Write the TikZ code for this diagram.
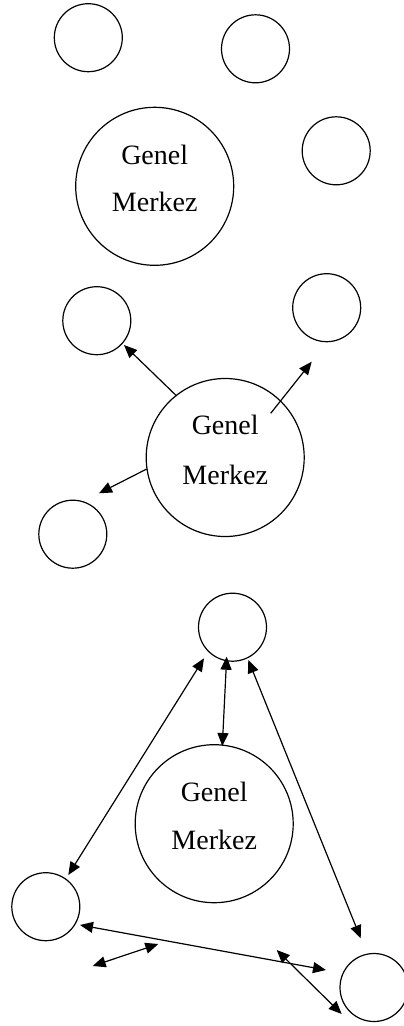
\documentclass[tikz,border=0pt]{standalone}
\usepackage{fontspec}
\setmainfont{Liberation Serif}
\usetikzlibrary{arrows.meta}
\tikzset{
  small/.style={circle,draw,line width=1.2pt,minimum size=68pt,inner sep=0pt},
  hub/.style={circle,draw,line width=1.2pt,minimum size=158pt,inner sep=0pt},
  label/.style={font=\fontsize{28}{28}\selectfont,inner sep=0pt},
  link/.style={line width=1.2pt,-{Triangle[length=13pt,width=11pt]}},
  twoway/.style={line width=1.2pt,{Triangle[length=13pt,width=11pt]}-{Triangle[length=13pt,width=11pt]}}
}
\begin{document}
\begin{tikzpicture}[x=1pt,y=-1pt]
\useasboundingbox (0,0) rectangle (404,1026);
\clip (0,0) rectangle (404,1026);

% --- first panel: scattered units around the centre ---
\node[small] (a1) at (88.3,37.7) {};
\node[small] (a2) at (255.5,48.8) {};
\node[hub]   (a0) at (154.7,186.3) {};
\node[label] at (154.7,155) {Genel};
\node[label] at (154.7,202) {Merkez};
\node[small] (a3) at (336.2,150.8) {};

% --- second panel: the centre sending outwards ---
\node[small] (b1) at (96.8,320.7) {};
\node[small] (b2) at (326.7,307.7) {};
\node[hub]   (b0) at (225.2,457.5) {};
\node[label] at (225.2,425) {Genel};
\node[label] at (225.2,475) {Merkez};
\node[small] (b3) at (72.8,534.2) {};

\coordinate (b1s) at (176.7,396);   \coordinate (b1e) at (124,345);
\coordinate (b2s) at (270.7,413.3); \coordinate (b2e) at (311.7,361.7);
\coordinate (b3s) at (146.7,469);   \coordinate (b3e) at (99,493.3);
\draw[link] (b1s) -- (b1e);
\draw[link] (b2s) -- (b2e);
\draw[link] (b3s) -- (b3e);

% --- third panel: mutual exchange between units ---
\node[small] (c1) at (232.5,627.2) {};
\node[hub]   (c0) at (214.2,823.7) {};
\node[label] at (214.2,791.7) {Genel};
\node[label] at (214.2,840) {Merkez};
\node[small] (c2) at (45.8,906.7) {};
\node[small] (c3) at (374,987.5) {};

\coordinate (c12a) at (204,658.3);   \coordinate (c12b) at (68.3,875);
\coordinate (c10a) at (226.7,656.7); \coordinate (c10b) at (222.3,746);
\coordinate (c13a) at (248.3,660);   \coordinate (c13b) at (360.7,938.3);
\coordinate (c23a) at (80,925);      \coordinate (c23b) at (326,970);
\coordinate (x1a)  at (92.7,966);    \coordinate (x1b)  at (158.3,944);
\coordinate (x2a)  at (276.7,950);   \coordinate (x2b)  at (341.7,1014);
\draw[twoway] (c12a) -- (c12b);
\draw[twoway] (c10a) -- (c10b);
\draw[twoway] (c13a) -- (c13b);
\draw[twoway] (c23a) -- (c23b);
\draw[twoway] (x1a) -- (x1b);
\draw[twoway] (x2a) -- (x2b);
\end{tikzpicture}
\end{document}
